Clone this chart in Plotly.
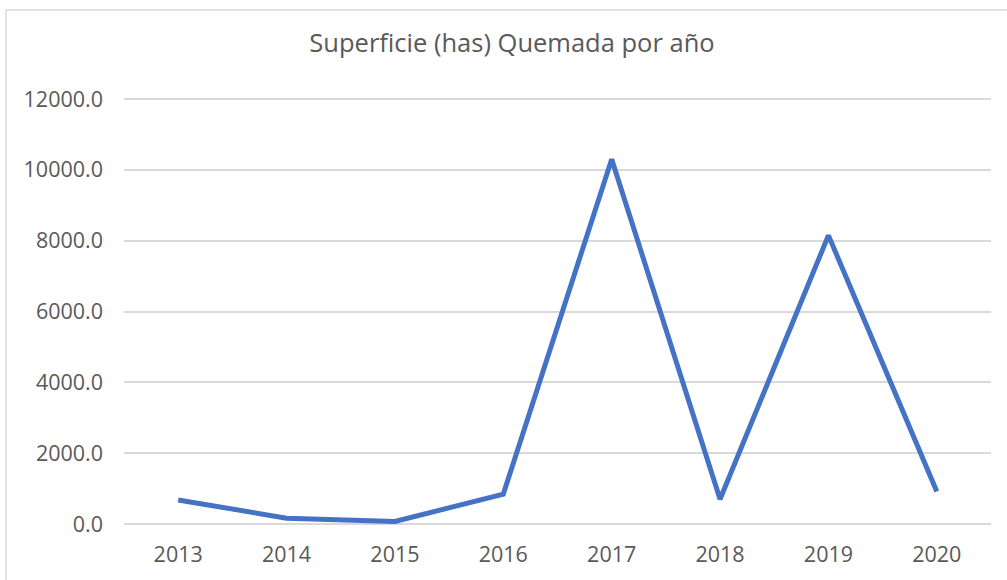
import plotly.graph_objects as go

years = ["2013", "2014", "2015", "2016", "2017", "2018", "2019", "2020"]
superficie = [680, 165, 70, 845, 10300, 700, 8150, 920]
y_ticks = [0, 2000, 4000, 6000, 8000, 10000, 12000]
title_text = "Superficie (has) Quemada por año"

W, H = 1007, 580
Y_MIN, Y_MAX = 0, 12000
# pixel positions of y=0 and y=12000 gridlines, and plot left/right
L, R, Y0_PX, YMAX_PX = 124, 991, 524, 99
PAD = 3  # extend plot area a few px so end gridlines are drawn
units_per_px = (Y_MAX - Y_MIN) / (Y0_PX - YMAX_PX)
T, B = YMAX_PX - PAD, Y0_PX + PAD
y_range = [Y_MIN - PAD * units_per_px, Y_MAX + PAD * units_per_px]

def px_to_paper_x(px):
    return (px - L) / (R - L)

def px_to_paper_y(py):
    return (B - py) / (B - T)

fig = go.Figure()
fig.add_trace(go.Scatter(
    x=years, y=superficie, mode="lines",
    line=dict(color="#4472C4", width=5, shape="linear"),
    hoverinfo="x+y", showlegend=False,
))

font_family = "Open Sans, Calibri, sans-serif"
fig.update_layout(
    width=W, height=H,
    margin=dict(l=L, r=W - R, t=T, b=H - B, pad=0),
    paper_bgcolor="white", plot_bgcolor="white",
    title=dict(text=title_text, x=512 / W, xanchor="center", xref="container",
               y=1 - 43.5 / H, yanchor="middle", yref="container",
               font=dict(family=font_family, size=25.5, color="#595959")),
    font=dict(family=font_family, color="#595959"),
    xaxis=dict(type="category", range=[-0.5, len(years) - 0.5], showgrid=False,
               showline=False, zeroline=False, ticks="",
               tickfont=dict(size=21.5, color="#595959"), ticklabelstandoff=12),
    yaxis=dict(range=y_range, tickvals=y_ticks, tickformat=".1f",
               showgrid=True, gridcolor="#d9d9d9", gridwidth=1.5,
               zeroline=False, showline=False, ticks="",
               tickfont=dict(size=21.5, color="#595959"), ticklabelstandoff=20),
    shapes=[dict(type="rect", xref="paper", yref="paper",
                 x0=px_to_paper_x(6), x1=px_to_paper_x(W + 10),
                 y0=px_to_paper_y(H + 10), y1=px_to_paper_y(10),
                 line=dict(color="#d9d9d9", width=1.5), fillcolor="rgba(0,0,0,0)",
                 layer="below")],
)

fig.write_html("out.html", config={"displayModeBar": False},
               post_script="document.body.style.margin='0';document.body.style.overflow='hidden';")
